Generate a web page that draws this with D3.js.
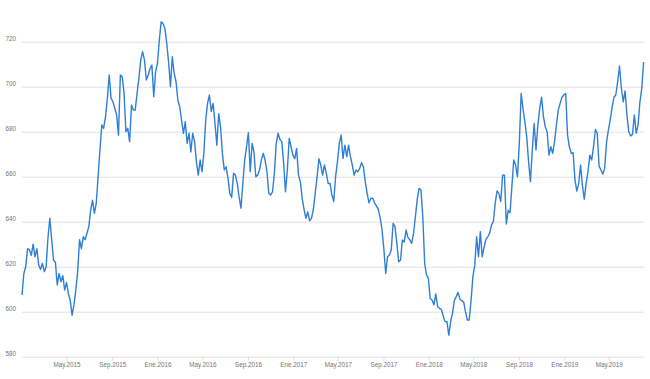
<!DOCTYPE html>
<html>
<head>
<meta charset="utf-8">
<script src="https://cdn.jsdelivr.net/npm/d3@7"></script>
<style>
  html, body { margin: 0; padding: 0; background: #fff; }
  svg { display: block; }
  text { font-family: "Liberation Sans", Arial, sans-serif; }
</style>
</head>
<body>
<div id="chart"></div>
<script>
// ---- data ----
const startDate = "2015-01-01";
const endDate = "2019-08-04";
const stepDays = 5;
const values = [
607.4,617,620,628,627.5,625,630,624.4,628,620.7,618.8,621.5,617.8,620,633,641.5,632,623,622,611.9,
617,613.3,616,609.6,613,608,605,598.5,603,609.6,617.8,632,628,633.3,632,634.8,637.8,645,649.6,643.7,
648,660,671.9,683,681.5,686.7,694.8,705.2,694.8,693.3,690.4,687.4,678.5,705.2,
704.4,697,680,681.5,675.6,691.9,689.6,689.6,697,703.7,711.9,715.6,711.9,703,705.2,708,709.6,695.6,706.7,710.4,
720.7,728.9,728,725.9,719.3,711,700,713.3,705.9,702.2,694,691,685,679.3,684.4,674.8,679.3,671,679.3,675.6,
666.7,660.7,667.4,662.2,670.4,685.2,692.6,696.3,689,692.6,683.7,674,688,682,670.4,663,
664.4,659.3,652.6,650.8,661.5,660.7,657,651,646,657,667.4,673.3,679.6,662.2,674.8,671,660,660.7,663,667.4,
670.4,667.4,662.2,652.6,651.9,653.3,661.5,674.8,679.3,676.6,675.6,666,653.3,663,677,673.3,669.6,668,672.6,660.7,
657.8,650.4,645.5,641.5,644.4,640.4,641.5,645.5,652.6,659.7,668,665.2,660.7,665.2,661.5,657,
657,651.9,649,660,666.7,674.8,678.5,668.1,674,668.9,674,668.9,665.2,660.7,663,662.2,663.7,666.2,664.4,657.8,
652.6,648.4,650.4,650.4,648.4,647,645.5,641.8,636.6,628,617,624.4,625.2,627.4,639.3,637.8,630.4,622.2,623,631.9,
631,636.3,632.9,631.9,630.4,634.8,642.2,649.9,654.8,654.1,642.2,621.5,616.3,614.8,605.9,605.2,603,
607.9,602.2,601.5,601,598.1,595.6,595.6,589.6,595.6,599.3,605,606.7,608.6,605.6,604.9,604.4,600,596.3,596.3,605,
615.6,620.7,633.3,624.4,635.6,624.4,628.6,632.1,633.3,634.8,638.5,640,648.1,653.7,652.6,648.9,660.7,660.7,639,645,
644,655.6,667.4,665.2,660,674.8,697,690,684.4,677.8,666.7,657.8,671.9,683.7,671.9,683,
690.4,695.3,686.7,682.2,680,669.6,673.3,670.4,675.6,683,689.6,692.6,695.3,696.3,697,678.5,673.3,670.4,670.7,658.5,
653.6,657,665.2,656.3,650,656.9,662.2,669.6,667.4,673.3,681,679.3,664.7,663,661.2,663.7,675.1,680.7,685.2,690.8,
695.3,696.3,702.2,709.2,699.3,693.3,698.1,687.4,680,678.1,678.8,687.4,679.3,683,693.3,699.3,711
];
const yTicks = [580, 600, 620, 640, 660, 680, 700, 720];
const xTickDates = ["2015-05-01","2015-09-01","2016-01-01","2016-05-01","2016-09-01","2017-01-01","2017-05-01","2017-09-01","2018-01-01","2018-05-01","2018-09-01","2019-01-01","2019-05-01"];
const xTickLabels = ["May.2015","Sep.2015","Ene.2016","May.2016","Sep.2016","Ene.2017","May.2017","Sep.2017","Ene.2018","May.2018","Sep.2018","Ene.2019","May.2019"];

// ---- build ----
const W = 650, H = 379;
const margin = { left: 22, right: 6, top: 19.2, bottom: 22.3 };
const parse = d3.utcParse("%Y-%m-%d");
const t0 = parse(startDate);
const data = values.map((v, i) => ({ date: d3.utcDay.offset(t0, i * stepDays), value: v }));

const svg = d3.select("#chart").append("svg").attr("width", W).attr("height", H);

const x = d3.scaleUtc()
  .domain([t0, parse(endDate)])
  .range([margin.left, W - margin.right]);
const y = d3.scaleLinear()
  .domain([580, 730])
  .range([H - margin.bottom, margin.top]);

// gridlines
const grid = svg.append("g")
  .attr("transform", `translate(${margin.left},0)`)
  .call(d3.axisLeft(y).tickValues(yTicks).tickSize(-(W - margin.right - margin.left)).tickFormat(""));
grid.select(".domain").remove();
grid.selectAll("line").attr("stroke", "#e0e0e0").attr("stroke-width", 1);

// y labels
const yAxis = svg.append("g")
  .attr("transform", `translate(16,0)`)
  .call(d3.axisLeft(y).tickValues(yTicks).tickSize(0).tickPadding(0).tickFormat(d3.format("d")));
yAxis.select(".domain").remove();
yAxis.selectAll("text")
  .attr("y", -3)
  .attr("fill", "#757575")
  .style("font-size", "6.3px");

// x axis
const xAxis = svg.append("g")
  .attr("transform", `translate(0,${H - margin.bottom})`)
  .call(d3.axisBottom(x)
    .tickValues(xTickDates.map(parse))
    .tickFormat((d, i) => xTickLabels[i])
    .tickSize(4)
    .tickPadding(2));
xAxis.select(".domain").remove();
xAxis.selectAll("line").attr("stroke", "#e0e0e0");
xAxis.selectAll("text")
  .attr("fill", "#757575")
  .style("font-size", "6.3px");

// line
const line = d3.line()
  .x(d => x(d.date))
  .y(d => y(d.value));
svg.append("path")
  .datum(data)
  .attr("fill", "none")
  .attr("stroke", "#2f7fd6")
  .attr("stroke-width", 1.4)
  .attr("stroke-linejoin", "round")
  .attr("d", line);
</script>
</body>
</html>
